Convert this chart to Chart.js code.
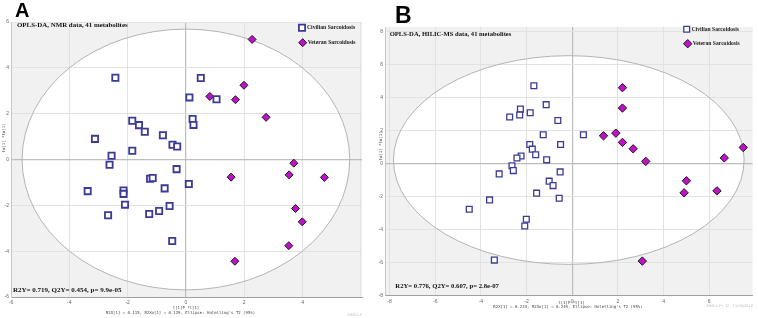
<!DOCTYPE html>
<html>
<head>
<meta charset="utf-8">
<script src="https://cdn.jsdelivr.net/npm/chart.js@4/dist/chart.umd.min.js"></script>
<style>
  body { margin: 0; background: #fff; width: 758px; height: 318px; overflow: hidden; position: relative; }
  .panel { position: absolute; top: 0; height: 318px; }
  #panelA { left: 0; width: 372px; }
  #panelB { left: 378px; width: 380px; }
  .tag { position: absolute; font-family: "Liberation Sans", Arial, sans-serif; font-weight: bold; line-height: 1; color: #000; }
</style>
</head>
<body>
<div class="panel" id="panelA"><canvas id="chartA"></canvas></div>
<div class="panel" id="panelB"><canvas id="chartB"></canvas></div>
<div class="tag" style="left:15px;top:0px;font-size:20px">A</div>
<div class="tag" style="left:395px;top:4px;font-size:23px">B</div>
<script>
// Panel A - NMR, scores [t1, to1]
const civilianA = [
  [-2.42, 3.57], [0.51, 3.56], [0.12, 2.71], [1.05, 2.63], [0.23, 1.77], [0.26, 1.51],
  [-1.84, 1.69], [-1.61, 1.50], [-1.41, 1.21], [-0.79, 1.06], [-3.12, 0.90], [-0.46, 0.64],
  [-0.30, 0.57], [-1.84, 0.38], [-2.55, 0.16], [-2.62, -0.23], [-1.23, -0.84], [-1.14, -0.81],
  [-0.32, -0.42], [0.10, -1.07], [-3.37, -1.38], [-2.14, -1.35], [-2.14, -1.50], [-0.73, -1.26],
  [-2.09, -1.97], [-0.56, -2.03], [-2.67, -2.43], [-1.26, -2.38], [-0.92, -2.25], [-0.47, -3.56]
];
const veteranA = [
  [2.27, 5.24], [1.99, 3.24], [0.82, 2.75], [1.70, 2.61], [2.75, 1.84], [3.70, -0.16],
  [3.54, -0.67], [4.75, -0.78], [1.55, -0.77], [3.76, -2.14], [3.99, -2.72], [3.53, -3.76],
  [1.68, -4.44]
];

// Panel B - HILIC-MS
const civilianB = [
  [-1.68, 4.74], [-1.14, 3.59], [-2.27, 3.32], [-2.30, 2.96], [-2.74, 2.84], [-1.84, 3.10],
  [-0.63, 2.63], [-1.27, 1.76], [0.49, 1.76], [-0.51, 1.17], [-1.86, 1.17], [-1.75, 0.89],
  [-1.60, 0.55], [-2.24, 0.47], [-2.42, 0.35], [-1.12, 0.24], [-2.64, -0.12], [-2.58, -0.41],
  [-3.20, -0.61], [-0.53, -0.49], [-1.01, -1.05], [-0.84, -1.32], [-1.56, -1.78], [-0.57, -2.09],
  [-3.62, -2.19], [-4.51, -2.76], [-2.01, -3.36], [-2.08, -3.77], [-3.41, -5.84]
];
const veteranB = [
  [2.20, 4.62], [2.20, 3.38], [1.37, 1.70], [1.91, 1.86], [2.20, 1.30], [2.67, 0.91],
  [7.49, 0.99], [6.66, 0.36], [3.22, 0.15], [5.00, -1.03], [4.90, -1.76], [6.34, -1.64],
  [3.07, -5.90]
];

// Hotelling's T2 (95%) ellipses [cx, cy, rx, ry]
const ellipseA = [0, 0, 5.62, 5.69];
const ellipseB = [-0.15, 0.23, 7.68, 6.33];

const legendLabels = ['Civilian Sarcoidosis', 'Veteran Sarcoidosis'];

const textA = {
  title: 'OPLS-DA, NMR data, 41 metabolites',
  stats: 'R2Y= 0.719, Q2Y= 0.454, p= 9.9e-05',
  xLabel: 't[1]P *t[1]',
  yLabel: 'to[1] *to[1]',
  footer: "R2X[1] = 0.115, R2Xo[1] = 0.129, Ellipse: Hotelling's T2 (95%)",
  stamp: 'SIMCA-P'
};
const textB = {
  title: 'OPLS-DA, HILIC-MS data, 41 metabolites',
  stats: 'R2Y= 0.776, Q2Y= 0.607, p= 2.8e-07',
  xLabel: 't[1]P *t[1]',
  yLabel: 'to[1] *to[1]',
  footer: "R2X[1] = 0.234, R2Xo[1] = 0.249, Ellipse: Hotelling's T2 (95%)",
  stamp: 'SIMCA-P+ 12 - 11/30/2018'
};

const toPts = arr => arr.map(p => ({ x: p[0], y: p[1] }));

const CIV_COLOR = '#3b3b96';
const VET_COLOR = '#c010c8';

function ellipsePx(chart, e) {
  const { x, y } = chart.scales;
  const cx = x.getPixelForValue(e[0]);
  const cy = y.getPixelForValue(e[1]);
  const rx = Math.abs(x.getPixelForValue(e[0] + e[2]) - cx);
  const ry = Math.abs(y.getPixelForValue(e[1] + e[3]) - cy);
  return { cx, cy, rx, ry };
}

const hotelling = {
  id: 'hotelling',
  beforeDraw(chart, args, opts) {
    const { ctx, chartArea: a } = chart;
    const p = ellipsePx(chart, opts.ellipse);
    ctx.save();
    ctx.fillStyle = '#f1f1f1';
    ctx.fillRect(a.left, a.top, a.width, a.height);
    ctx.beginPath();
    ctx.rect(a.left, a.top, a.width, a.height);
    ctx.clip();
    ctx.beginPath();
    ctx.ellipse(p.cx, p.cy, p.rx, p.ry, 0, 0, Math.PI * 2);
    ctx.fillStyle = '#fff';
    ctx.fill();
    ctx.restore();
  },
  beforeDatasetsDraw(chart, args, opts) {
    const { ctx, chartArea: a } = chart;
    const p = ellipsePx(chart, opts.ellipse);
    ctx.save();
    ctx.beginPath();
    ctx.rect(a.left, a.top, a.width, a.height);
    ctx.clip();
    ctx.beginPath();
    ctx.ellipse(p.cx, p.cy, p.rx, p.ry, 0, 0, Math.PI * 2);
    ctx.strokeStyle = '#b4b4b4';
    ctx.lineWidth = 1;
    ctx.stroke();
    ctx.restore();
  }
};

function marker(ctx, kind, x, y, ds) {
  ctx.save();
  ctx.beginPath();
  const r = ds.pointRadius;
  if (kind === 'rect') {
    const s = Math.SQRT1_2 * r;
    ctx.rect(x - s, y - s, 2 * s, 2 * s);
  } else {
    ctx.moveTo(x, y - r); ctx.lineTo(x + r, y); ctx.lineTo(x, y + r); ctx.lineTo(x - r, y); ctx.closePath();
  }
  ctx.fillStyle = ds.backgroundColor;
  ctx.fill();
  ctx.lineWidth = ds.borderWidth;
  ctx.strokeStyle = ds.borderColor;
  ctx.stroke();
  ctx.restore();
}

const annotations = {
  id: 'annotations',
  afterDraw(chart, args, o) {
    const { ctx } = chart;
    const t = o.text;
    ctx.save();
    ctx.fillStyle = '#111';
    ctx.textBaseline = 'middle';
    ctx.textAlign = 'left';
    ctx.font = 'bold ' + o.titleSize + 'px "Liberation Serif", "Times New Roman", serif';
    ctx.fillText(t.title, o.titlePos[0], o.titlePos[1]);
    ctx.font = 'bold ' + o.statsSize + 'px "Liberation Serif", "Times New Roman", serif';
    ctx.fillText(t.stats, o.statsPos[0], o.statsPos[1]);

    // legend
    ctx.font = 'bold ' + o.legendSize + 'px "Liberation Serif", "Times New Roman", serif';
    chart.data.datasets.forEach((ds, i) => {
      const [lx, ly] = o.legendPos[i];
      marker(ctx, ds.pointStyle, lx, ly, ds);
      ctx.fillStyle = '#222';
      ctx.fillText(legendLabels[i], lx + 5, ly);
    });

    // axis titles and footer
    ctx.fillStyle = '#444';
    ctx.textAlign = 'center';
    ctx.font = '4px "DejaVu Sans Mono", monospace';
    ctx.fillText(t.xLabel, o.xLabelPos[0], o.xLabelPos[1]);
    ctx.fillText(t.footer, o.footerPos[0], o.footerPos[1]);
    ctx.save();
    ctx.translate(o.yLabelPos[0], o.yLabelPos[1]);
    ctx.rotate(-Math.PI / 2);
    ctx.fillText(t.yLabel, 0, 0);
    ctx.restore();
    ctx.fillStyle = '#bbb';
    ctx.textAlign = 'right';
    ctx.font = '3.5px "DejaVu Sans", sans-serif';
    ctx.fillText(t.stamp, o.stampPos[0], o.stampPos[1]);
    ctx.restore();
  }
};

function makeChart(id, civ, vet, cfg) {
  return new Chart(document.getElementById(id), {
    type: 'scatter',
    data: {
      datasets: [
        {
          label: legendLabels[0],
          data: toPts(civ),
          pointStyle: 'rect',
          pointRadius: cfg.civRadius,
          borderWidth: cfg.civBorder,
          borderColor: CIV_COLOR,
          backgroundColor: '#ffffff'
        },
        {
          label: legendLabels[1],
          data: toPts(vet),
          pointStyle: 'rectRot',
          pointRadius: cfg.vetRadius,
          borderWidth: 1,
          borderColor: '#1a1a1a',
          backgroundColor: VET_COLOR
        }
      ]
    },
    options: {
      responsive: true,
      maintainAspectRatio: false,
      animation: false,
      events: [],
      layout: { padding: { top: cfg.padTop, right: cfg.padRight, left: 0, bottom: 0 } },
      plugins: {
        legend: { display: false },
        tooltip: { enabled: false },
        hotelling: { ellipse: cfg.ellipse },
        annotations: cfg.notes
      },
      scales: {
        x: {
          type: 'linear',
          min: cfg.xMin,
          max: cfg.xMax,
          afterFit(s) { s.height = cfg.xAxisH; },
          ticks: {
            stepSize: 2,
            includeBounds: false,
            padding: 3,
            color: '#666',
            font: { size: 5 },
            maxRotation: 0,
            callback: v => (v > cfg.xLabelMax ? '' : v)
          },
          grid: {
            color: c => (c.tick && c.tick.value === 0 ? '#bdbdbd' : '#e2e2e2'),
            lineWidth: c => (c.tick && c.tick.value === 0 ? 1.2 : 1),
            drawTicks: false
          },
          border: { color: '#a0a0a0' }
        },
        y: {
          type: 'linear',
          min: cfg.yMin,
          max: cfg.yMax,
          afterFit(s) { s.width = cfg.yAxisW; },
          ticks: {
            stepSize: 2,
            includeBounds: false,
            padding: 2,
            color: '#666',
            font: { size: 5 }
          },
          grid: {
            color: c => (c.tick && c.tick.value === 0 ? '#bdbdbd' : '#e2e2e2'),
            lineWidth: c => (c.tick && c.tick.value === 0 ? 1.2 : 1),
            drawTicks: false
          },
          border: { color: '#c8c8c8' }
        }
      }
    },
    plugins: [hotelling, annotations]
  });
}

makeChart('chartA', civilianA, veteranA, {
  xMin: -6, xMax: 6.04, yMin: -6, yMax: 6, xLabelMax: 5,
  padTop: 22, padRight: 10, xAxisH: 21, yAxisW: 11,
  civRadius: 4.4, civBorder: 1.8, vetRadius: 4,
  ellipse: ellipseA,
  notes: {
    text: textA,
    titleSize: 6.9, statsSize: 7, legendSize: 5.7,
    titlePos: [17, 25.7], statsPos: [13, 289.7],
    legendPos: [[302, 27.7], [302.7, 42.7]],
    xLabelPos: [186, 308], footerPos: [180.5, 313.3],
    yLabelPos: [3.5, 138], stampPos: [362, 314.7]
  }
});

makeChart('chartB', civilianB, veteranB, {
  xMin: -8.2, xMax: 7.9, yMin: -8, yMax: 8.3, xLabelMax: 7,
  padTop: 27, padRight: 3.3, xAxisH: 22.3, yAxisW: 7,
  civRadius: 4.1, civBorder: 1.3, vetRadius: 4.2,
  ellipse: ellipseB,
  notes: {
    text: textB,
    titleSize: 6.6, statsSize: 6.7, legendSize: 5.6,
    titlePos: [11.7, 34.3], statsPos: [17.3, 286],
    legendPos: [[308.7, 29.3], [309.7, 43.7]],
    xLabelPos: [193.5, 302.7], footerPos: [190, 307.3],
    yLabelPos: [3.3, 146], stampPos: [375, 306]
  }
});
</script>
</body>
</html>
